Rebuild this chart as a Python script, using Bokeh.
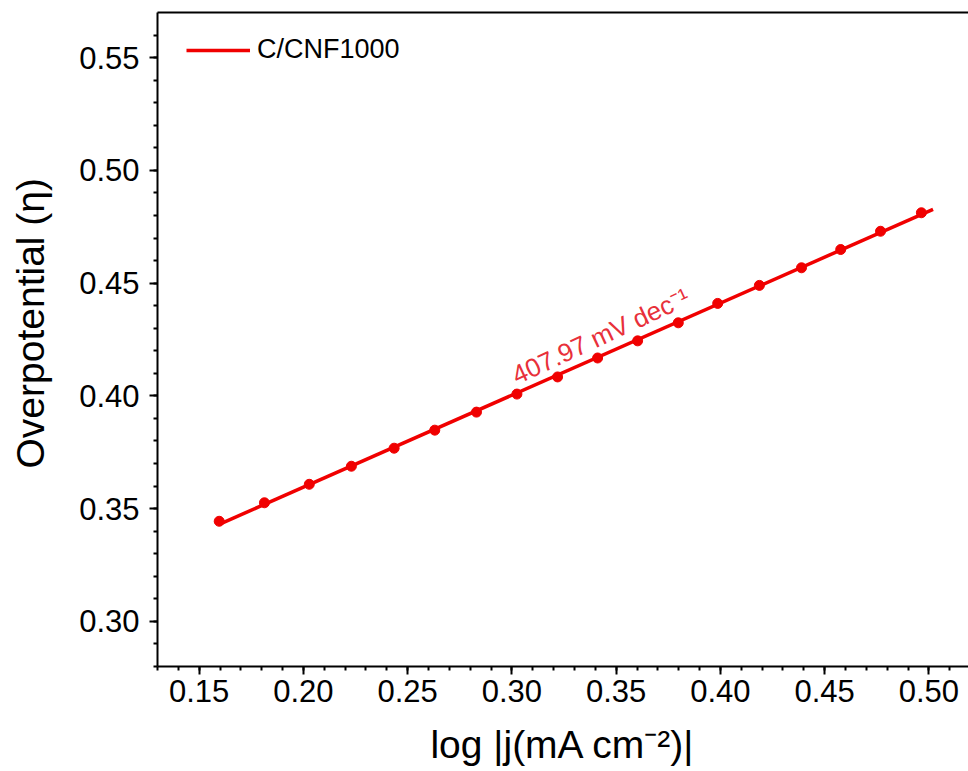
import numpy as np
from bokeh.plotting import figure
from bokeh.models import (Range1d, LinearAxis, SingleIntervalTicker, FixedTicker,
                          NumeralTickFormatter, Legend, LegendItem, Label)
from bokeh.embed import file_html
from bokeh.resources import INLINE

# Tafel data for C/CNF1000
log_j = [0.1596, 0.1813, 0.2028, 0.2230, 0.2435, 0.2630, 0.2830, 0.3024, 0.3219,
         0.3411, 0.3603, 0.3798, 0.3987, 0.4187, 0.4389, 0.4577, 0.4768, 0.4964]
overpotential = [0.3444, 0.3526, 0.3608, 0.3688, 0.3768, 0.3848, 0.3928, 0.4008, 0.4084,
                 0.4168, 0.4244, 0.4324, 0.4410, 0.4490, 0.4568, 0.4649, 0.4730, 0.4812]
series_name = "C/CNF1000"
tafel_slope_mv = 407.97          # mV per decade
fit_span = [0.1596, 0.502]       # log|j| extent of the fitted line

# linear Tafel fit with the reported slope
slope = tafel_slope_mv / 1000.0
intercept = float(np.mean(overpotential) - slope * np.mean(log_j))
fit_x = np.array(fit_span)
fit_y = intercept + slope * fit_x

FONT = "Liberation Sans"
RED = "#f00000"
NBSP = "\u00a0"

p = figure(width=968, height=771,
           x_range=Range1d(0.13, 0.519), y_range=Range1d(0.28, 0.57),
           output_backend="svg", toolbar_location=None,
           min_border_left=157, min_border_right=0,
           min_border_top=12, min_border_bottom=105,
           background_fill_color="white", border_fill_color="white")
p.outline_line_color = None
p.grid.visible = False

fit_line = p.line(fit_x, fit_y, line_color=RED, line_width=3.5)
p.scatter(log_j, overpotential, size=10, fill_color=RED, line_color=RED)

def style_axis(ax):
    ax.axis_line_width = 2
    ax.axis_line_color = "black"
    ax.major_tick_line_width = 2
    ax.minor_tick_line_width = 2
    ax.major_tick_in = 0
    ax.minor_tick_in = 0
    ax.major_tick_out = 8
    ax.minor_tick_out = 4
    ax.major_label_text_font = FONT
    ax.major_label_text_font_size = "31px"
    ax.major_label_text_color = "black"
    ax.axis_label_text_font = FONT
    ax.axis_label_text_font_size = "39px"
    ax.axis_label_text_font_style = "normal"
    ax.axis_label_text_color = "black"
    ax.formatter = NumeralTickFormatter(format="0.00")

xa = p.xaxis[0]
style_axis(xa)
xa.ticker = SingleIntervalTicker(interval=0.05, num_minor_ticks=5)
xa.major_label_standoff = 5
xa.axis_label = "log |j(mA cm\u207b\u00b2)|"
xa.axis_label_standoff = 18

ya = p.yaxis[0]
style_axis(ya)
ya.ticker = SingleIntervalTicker(interval=0.05, num_minor_ticks=5)
ya.major_label_standoff = 10
# leading no-break spaces nudge the rotated title a little toward the top
ya.axis_label = NBSP * 3 + "Overpotential (\u03b7)"
ya.axis_label_standoff = 24

# plain line closing the frame on top
top = LinearAxis(ticker=FixedTicker(ticks=[]), axis_line_width=2, axis_line_color="black",
                 major_tick_out=0, minor_tick_out=0, major_label_text_font_size="0px")
p.add_layout(top, "above")

# slope annotation
p.add_layout(Label(x=0.3007, y=0.4085, text=f"{tafel_slope_mv:.2f} mV dec\u207b\u00b9",
                   angle=25, angle_units="deg", text_align="left", text_baseline="alphabetic",
                   text_font=FONT, text_font_size="26px", text_color="#e8303a"))

legend = Legend(items=[LegendItem(label=series_name, renderers=[fit_line])],
                location=(29, 601), border_line_color=None, background_fill_alpha=0,
                padding=0, margin=0, spacing=0, glyph_width=64, glyph_height=20,
                label_standoff=7, label_text_font=FONT, label_text_font_size="27px",
                label_text_color="black")
p.add_layout(legend)

open("out.html", "w").write(file_html(p, INLINE))
